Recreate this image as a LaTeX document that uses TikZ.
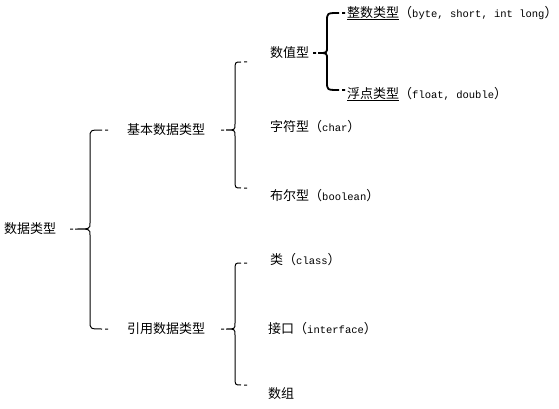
\documentclass[tikz,border=0pt]{standalone}
\usepackage{fontspec}
\setmainfont{Noto Sans CJK SC}
\newfontfamily\latfont{Liberation Mono}
\newcommand{\lat}[1]{{\latfont\fontsize{10.5}{11}\selectfont #1}}
\usepackage{tikz}
\usetikzlibrary{calc}

\begin{document}
\begin{tikzpicture}[x=1pt, y=-1pt,
    txt/.style={anchor=west, inner sep=0pt, font=\fontsize{13}{14}\selectfont},
    brc/.style={draw=black, line width=1pt},
    brcb/.style={draw=black, line width=1.8pt}
]
    \useasboundingbox (0,0) rectangle (559,409);
    \node[txt] (data)  at (4,229)   {数据类型};
    \node[txt] (basic) at (127,130) {基本数据类型};
    \node[txt] (ref)   at (127,329) {引用数据类型};
    \node[txt] (num)   at (270,53)  {数值型};
    \node[txt] (int)   at (347,13)  {\underline{整数类型}（\lat{byte, short, int long}）};
    \node[txt] (float) at (347,94)  {\underline{浮点类型}（\lat{float, double}）};
    \node[txt] (char)  at (270,127) {字符型（\lat{char}）};
    \node[txt] (bool)  at (270,196) {布尔型（\lat{boolean}）};
    \node[txt] (class) at (270,260) {类（\lat{class}）};
    \node[txt] (iface) at (268,329) {接口（\lat{interface}）};
    \node[txt] (array) at (268,394) {数组};
    % braces: parent / top / bottom / tip x / line x / end x / top shift / bottom shift / style
    \foreach \nP/\nT/\nB/\xT/\xV/\xE/\dT/\dB/\st in {data/basic/ref/75/90/106/0/0/brc,
        basic/num/bool/226/235/245/9/8/brc, ref/class/array/226/235/245/3/9/brc,
        num/int/float/318/327/343/0/4/brcb}
      \draw[\st] let \p1=(\nP.west), \p2=(\nT.west), \p3=(\nB.west) in
        (\xE pt-4pt,\y2-\dT pt) .. controls (\xV pt,\y2-\dT pt) .. (\xV pt,\y2-\dT pt-8pt)
        -- (\xV pt,\y1+6pt) .. controls (\xV pt,\y1) .. (\xT pt,\y1)
        .. controls (\xV pt,\y1) .. (\xV pt,\y1-6pt)
        -- (\xV pt,\y3+\dB pt+8pt) .. controls (\xV pt,\y3+\dB pt) .. (\xE pt-4pt,\y3+\dB pt)
        (\xE pt-1pt,\y2-\dT pt) -- (\xE pt+2pt,\y2-\dT pt)
        (\xE pt-1pt,\y3+\dB pt) -- (\xE pt+2pt,\y3+\dB pt)
        (\xT pt-5pt,\y1) -- (\xT pt-2pt,\y1);
\end{tikzpicture}
\end{document}
